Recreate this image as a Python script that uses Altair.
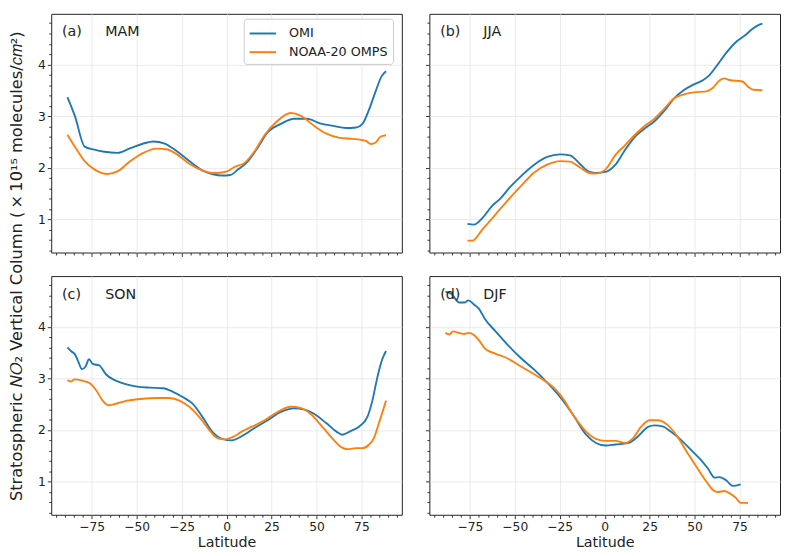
import altair as alt
import pandas as pd

# ---------------- data ----------------
seasons = ["MAM", "JJA", "SON", "DJF"]
tags = ["(a)", "(b)", "(c)", "(d)"]
sensors = ["OMI", "NOAA-20 OMPS"]
colors = ["#1f77b4", "#ff7f0e"]

mam_omi_lat = [-88.5, -84.4, -78.9, -73.5, -68, -60.7, -53.5, -46.2, -40.7, -34.4, -28, -20.7, -13.5, -8, -2.5, 2,
               6.5, 12, 17.5, 22.9, 30.2, 37.5, 44.7, 52, 59.3, 66.5, 72, 75.6, 79.3, 82.9, 86.2, 88.7]
mam_omi_val = [3.37, 3.01, 2.41, 2.35, 2.31, 2.29, 2.38, 2.47, 2.51, 2.47, 2.33, 2.13, 1.95, 1.88, 1.85, 1.86,
               1.97, 2.13, 2.40, 2.69, 2.85, 2.95, 2.95, 2.86, 2.81, 2.77, 2.78, 2.85, 3.13, 3.48, 3.77, 3.87]
mam_omps_lat = [-88.5, -84.4, -78.9, -73.5, -66.2, -60.7, -53.5, -46.2, -38.9, -33.5, -28, -20.7, -13.5, -8, -2.5,
                0.2, 4.7, 10.2, 15.6, 21.1, 28.4, 35.6, 41.1, 48.4, 55.6, 62.9, 70.2, 77.5, 80.2, 82.9, 85.6, 88.7]
mam_omps_val = [2.64, 2.41, 2.13, 1.97, 1.88, 1.93, 2.13, 2.29, 2.37, 2.36, 2.27, 2.08, 1.95, 1.90, 1.91,
                1.93, 2.02, 2.10, 2.32, 2.63, 2.91, 3.06, 3.01, 2.82, 2.66, 2.58, 2.56, 2.52, 2.46, 2.49, 2.60, 2.63]

jja_omi_lat = [-76.3, -72.7, -68.2, -62.7, -58.2, -52.8, -46.5, -39.2, -32, -24.8, -19.3, -13.9, -8.5, -4.9, 0.5, 6,
               11.4, 16.8, 22.2, 27.7, 33.1, 38.5, 43.9, 49.4, 54.8, 58.4, 62, 67.5, 72.9, 78.3, 81.9, 85.5, 87.7]
jja_omi_val = [0.915, 0.90, 1.02, 1.26, 1.40, 1.62, 1.84, 2.06, 2.21, 2.26, 2.24, 2.08, 1.92, 1.90, 1.92, 2.06,
               2.35, 2.60, 2.76, 2.90, 3.10, 3.34, 3.50, 3.61, 3.70, 3.80, 3.96, 4.22, 4.43, 4.57, 4.68, 4.76, 4.79]
jja_omps_lat = [-76.3, -73.6, -68.2, -60.9, -53.7, -46.5, -39.2, -32, -24.8, -19.3, -13.9, -8.5, -4.9, 0.5, 6,
                11.4, 16.8, 22.2, 27.7, 33.1, 38.5, 43.9, 49.4, 56.6, 60.2, 63.8, 66.5, 69.3, 76.5, 80.1, 82.8, 87.7]
jja_omps_val = [0.59, 0.59, 0.80, 1.09, 1.38, 1.65, 1.91, 2.06, 2.13, 2.12, 2.01, 1.90, 1.89, 1.97, 2.25,
                2.44, 2.64, 2.81, 2.95, 3.14, 3.34, 3.42, 3.46, 3.48, 3.55, 3.69, 3.73, 3.70, 3.67, 3.56, 3.51, 3.50]

son_omi_lat = [-88.5, -86.2, -84.4, -82.5, -80.4, -78.4, -76.5, -74.4, -70.7, -67.1, -62.5, -57.1, -49.8, -42.5,
               -35.3, -29.8, -24.4, -18.9, -13.5, -8, -2.5, 2.9, 8.4, 15.6, 22.9, 30.2, 37.5, 42.9, 48.4, 55.6,
               61.1, 64.4, 68.4, 73.8, 78.4, 81.1, 83.8, 86.5, 88.7]
son_omi_val = [3.60, 3.52, 3.47, 3.33, 3.18, 3.23, 3.37, 3.28, 3.25, 3.08, 2.97, 2.90, 2.84, 2.82,
               2.81, 2.74, 2.64, 2.51, 2.26, 1.97, 1.83, 1.80, 1.88, 2.04, 2.19, 2.35, 2.42, 2.40, 2.32, 2.13,
               1.97, 1.91, 1.97, 2.07, 2.26, 2.57, 3.01, 3.36, 3.53]
son_omps_lat = [-88.5, -86.7, -84.4, -79.8, -76.2, -72.5, -68.9, -65.8, -62.5, -55.3, -48, -38.9, -31.6, -26.2,
                -20.7, -15.3, -9.8, -5.3, -0.7, 3.8, 8.4, 13.8, 21.1, 28.4, 35.6, 41.1, 46.5, 53.8, 59.3, 63.8,
                67.5, 72, 75.6, 79.3, 82, 84.7, 88.7]
son_omps_val = [2.97, 2.94, 2.98, 2.95, 2.91, 2.77, 2.57, 2.48, 2.50, 2.57, 2.60, 2.62, 2.62, 2.57,
                2.45, 2.26, 2.01, 1.85, 1.82, 1.87, 1.97, 2.06, 2.19, 2.35, 2.45, 2.43, 2.32, 2.04, 1.82, 1.67,
                1.63, 1.65, 1.65, 1.72, 1.85, 2.13, 2.57]

djf_omi_lat = [-88.6, -85.4, -80.8, -78.1, -75.8, -72.7, -70, -66.4, -60.9, -53.7, -46.5, -39.2, -32, -24.8,
               -17.5, -10.3, -4.9, 0.5, 6, 13.2, 18.6, 24.1, 27.7, 32.2, 36.7, 42.1, 47.6, 53, 57.5, 61.1, 63.8,
               67.5, 71.1, 75.6]
djf_omi_val = [4.68, 4.64, 4.47, 4.47, 4.51, 4.43, 4.35, 4.14, 3.92, 3.64, 3.39, 3.17, 2.92, 2.64,
               2.29, 1.91, 1.75, 1.70, 1.72, 1.75, 1.88, 2.06, 2.09, 2.07, 1.97, 1.82, 1.63, 1.44, 1.25, 1.08, 1.09,
               1.03, 0.92, 0.95]
djf_omps_lat = [-88.6, -86.3, -84.4, -80.8, -78.1, -75.8, -72.7, -70, -66.4, -60.9, -53.7, -46.5, -39.2, -32,
                -26.6, -23, -17.5, -10.3, -4.9, 0.5, 6, 11.4, 15.9, 20.4, 25, 29.5, 34.9, 40.3, 45.8, 51.2, 56.6,
                60.2, 62.9, 66.5, 69.3, 72.9, 75.6, 79.7]
djf_omps_val = [3.88, 3.85, 3.91, 3.88, 3.86, 3.88, 3.84, 3.74, 3.57, 3.48, 3.38, 3.23, 3.08, 2.92,
                2.76, 2.60, 2.29, 1.97, 1.83, 1.79, 1.79, 1.75, 1.85, 2.07, 2.19, 2.19, 2.10, 1.88, 1.57, 1.28, 1.00,
                0.84, 0.80, 0.82, 0.78, 0.69, 0.59, 0.59]

season_data = {
    "MAM": [(mam_omi_lat, mam_omi_val), (mam_omps_lat, mam_omps_val)],
    "JJA": [(jja_omi_lat, jja_omi_val), (jja_omps_lat, jja_omps_val)],
    "SON": [(son_omi_lat, son_omi_val), (son_omps_lat, son_omps_val)],
    "DJF": [(djf_omi_lat, djf_omi_val), (djf_omps_lat, djf_omps_val)],
}

x_ticks = list(range(-95, 100, 5))            # major every 25, minor every 5
y_ticks = [round(0.4 + 0.2 * i, 1) for i in range(23)]  # major every 1, minor every 0.2
x_domain = [-97.5, 97.5]
y_domain = [0.36, 4.98]

y_title = ("Stratospheric \U0001D441\U0001D442\u2082 Vertical Column "
           "(\u2009\u00d7\u200910\u00b9\u2075 molecules/\U0001D450\U0001D45A\u00b2)")

FONT = "DejaVu Sans"
INK = "#222222"
PW, PH = 357, 243

X_MAJOR = "datum.value % 25 === 0"
Y_MAJOR = "abs(datum.value - round(datum.value)) < 0.001"

XS = alt.Scale(domain=x_domain, nice=False, zero=False)
YS = alt.Scale(domain=y_domain, nice=False, zero=False)


def axes(bottom, left):
    xaxis = alt.Axis(values=x_ticks, tickCount=200, labels=bottom, title="Latitude" if bottom else None,
                     labelExpr=f"{X_MAJOR} ? datum.label : ''",
                     tickSize={"condition": {"test": X_MAJOR, "value": 4}, "value": 2.5},
                     gridOpacity={"condition": {"test": X_MAJOR, "value": 1}, "value": 0},
                     labelOverlap=False, labelFlush=False)
    yaxis = alt.Axis(values=y_ticks, tickCount=200, labels=left, title=None,
                     labelExpr=f"{Y_MAJOR} ? format(datum.value, 'd') : ''",
                     tickSize={"condition": {"test": Y_MAJOR, "value": 4}, "value": 2.5},
                     gridOpacity={"condition": {"test": Y_MAJOR, "value": 1}, "value": 0},
                     labelOverlap=False, labelFlush=False)
    return xaxis, yaxis


def panel(season, tag, bottom, left, show_legend):
    rows = []
    for s, (lats, vals) in zip(sensors, season_data[season]):
        for la, v in zip(lats, vals):
            rows.append({"lat": la, "val": v, "sensor": s, "order": sensors.index(s)})
    df = pd.DataFrame(rows)

    xaxis, yaxis = axes(bottom, left)
    if show_legend:
        legend = alt.Legend(orient="none", legendX=196, legendY=5, title=None,
                            symbolType="M-1,0H2", symbolSize=324, symbolStrokeWidth=2,
                            symbolFillColor="transparent",
                            labelFont=FONT, labelFontSize=13, labelColor=INK,
                            fillColor="rgba(255,255,255,0.8)", strokeColor="#cccccc",
                            padding=5, rowPadding=2, labelOffset=21, cornerRadius=3)
    else:
        legend = None

    lines = alt.Chart(df).mark_line(strokeWidth=1.9, interpolate="monotone").encode(
        x=alt.X("lat:Q", scale=XS, axis=xaxis),
        y=alt.Y("val:Q", scale=YS, axis=yaxis),
        color=alt.Color("sensor:N", scale=alt.Scale(domain=sensors, range=colors), legend=legend),
        order="order:Q",
    )
    lab = pd.DataFrame({"lat": [-91.5, -67.5], "val": [4.62, 4.62], "t": [tag, season]})
    xaxis2, yaxis2 = axes(bottom, left)
    text = alt.Chart(lab).mark_text(align="left", baseline="middle", font=FONT, fontSize=14.5,
                                    color=INK).encode(
        x=alt.X("lat:Q", scale=XS, axis=xaxis2),
        y=alt.Y("val:Q", scale=YS, axis=yaxis2),
        text="t:N")
    return alt.layer(lines, text).properties(width=PW, height=PH)


a = panel("MAM", "(a)", False, True, True)
b = panel("JJA", "(b)", False, False, False)
c = panel("SON", "(c)", True, True, False)
d = panel("DJF", "(d)", True, False, False)

row1 = alt.hconcat(a, b, spacing=22).resolve_legend(color="independent")
row2 = alt.hconcat(c, d, spacing=22).resolve_legend(color="independent")
grid = alt.vconcat(row1, row2, spacing=18).resolve_legend(color="independent")

title_chart = alt.Chart(pd.DataFrame({"t": [y_title]})).mark_text(
    angle=270, font=FONT, fontSize=16.5, color=INK, align="center", baseline="middle"
).encode(text="t:N", x=alt.value(8), y=alt.value(257)).properties(
    width=16, height=2 * PH + 22, view=alt.ViewBackground(stroke="transparent"))

chart = alt.hconcat(title_chart, grid, spacing=10).resolve_legend(color="independent").properties(
    padding=0
).configure_view(stroke=INK, strokeWidth=1).configure_axis(
    domain=False, tickColor=INK, tickWidth=0.9, labelColor=INK, titleColor=INK,
    labelFont=FONT, titleFont=FONT, labelFontSize=12.5, titleFontSize=14.5, titleFontWeight="normal",
    gridColor="#e6e6e6", gridWidth=0.8, labelPadding=2, titlePadding=3
)

chart.save("out.html", embed_options={"renderer": "svg", "actions": False})
